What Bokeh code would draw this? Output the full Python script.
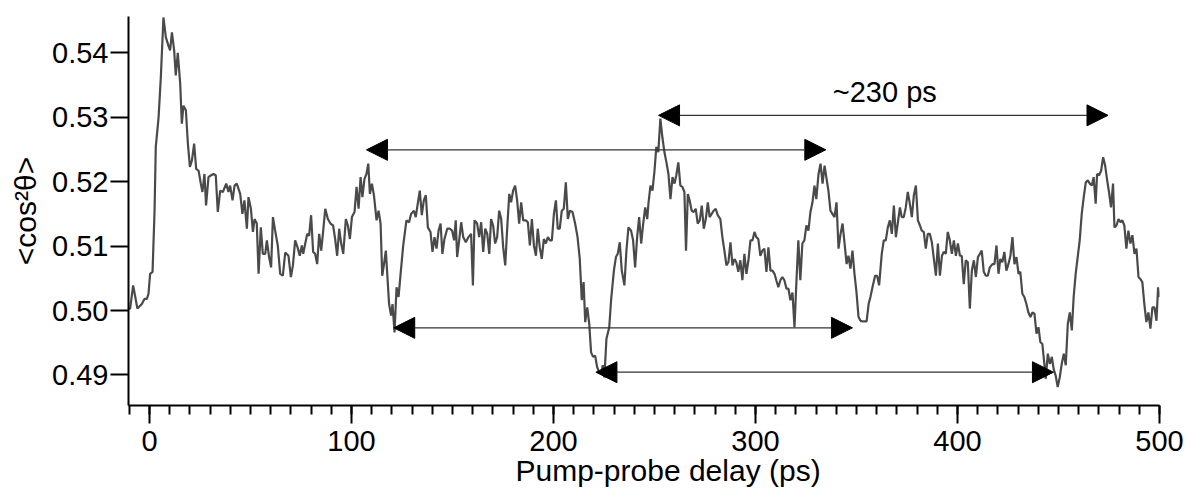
from bokeh.plotting import figure
from bokeh.models import Range1d, Arrow, NormalHead, Label, FixedTicker, PrintfTickFormatter, Title
from bokeh.embed import file_html
from bokeh.resources import INLINE

# ---- data ----
delay = [
    -10.4, -9.6, -8.1, -6.0, -3.8, -2.5, -1.3, -0.5, 0.3, 1.5, 2.5, 3.1, 4.5, 5.6, 6.9, 8.1, 9.4, 10.2, 11.1, 12.2,
    13.0, 14.0, 15.2, 16.0, 16.8, 18.0, 19.0, 20.0, 21.0, 22.1, 23.1, 24.3, 25.4, 26.2, 27.2, 28.0, 29.2, 30.5, 31.7, 32.8,
    33.8, 35.0, 36.3, 38.0, 39.1, 39.9, 41.1, 42.1, 43.2, 44.9, 46.0, 47.0, 48.2, 49.0, 50.2, 51.2, 52.0, 53.1, 54.0, 55.1,
    56.1, 57.3, 58.1, 59.2, 60.2, 61.1, 62.2, 63.5, 64.7, 66.0, 67.2, 68.8, 70.0, 71.0, 72.1, 73.3, 74.4, 75.4,
    76.1, 77.1, 78.1, 79.0, 80.0, 81.0, 82.0, 83.0, 84.0, 85.0, 86.0, 87.0, 88.3, 89.6, 90.9, 91.9, 92.9, 93.9, 94.9, 95.9,
    97.2, 98.2, 99.2, 100.2, 101.5, 102.5, 103.5, 104.5, 105.4, 106.4, 107.4, 108.3, 109.1, 110.1, 111.1, 112.4, 113.4, 114.4,
    115.2, 116.0, 117.0, 118.0, 118.6, 119.6, 120.3, 121.3, 122.3, 123.3, 124.3, 125.6, 127.2, 128.5, 129.5, 130.9, 131.8,
    132.8, 133.8, 134.8, 135.8, 136.8, 137.8, 139.1, 140.1, 141.1, 142.1, 143.1, 144.1, 145.0, 146.0, 147.4, 148.7, 149.8,
    150.8, 151.6, 152.3, 153.3, 154.3, 155.3, 156.6, 157.9, 159.2, 160.1, 160.9,
    162.2, 163.2, 164.2, 165.2, 166.2, 167.2, 168.2, 169.1, 170.1, 171.1, 172.1, 173.1, 174.1, 175.1, 176.1, 177.1, 178.1,
    179.0, 180.0, 181.0, 182.0, 183.0, 184.0, 185.0, 186.3, 187.3, 188.3, 189.3, 190.3, 191.3, 192.2, 193.2, 194.2, 195.2,
    196.2, 197.2, 198.2, 199.2, 200.2, 201.2, 202.1, 203.1, 204.1, 205.1, 206.1, 207.1, 208.1, 209.4, 210.7, 211.9, 213.0,
    214.0, 214.9, 215.7, 216.7, 217.7, 218.6, 219.6, 220.6, 221.6, 222.6, 223.6, 224.4, 225.2, 226.2, 227.6, 228.5, 229.9,
    230.9, 231.8, 232.8, 233.8, 235.1, 236.1, 237.1, 238.4, 239.4, 240.4, 241.4, 242.4, 243.4, 244.4, 245.4, 246.4,
    247.0, 248.0, 249.0, 250.0, 250.9, 251.9, 252.9, 253.9, 254.9, 255.9, 256.9, 257.9, 258.9, 259.9, 260.8, 261.8, 262.8,
    263.8, 264.8, 265.6, 266.5, 267.4, 268.4, 269.4, 270.4, 271.4, 272.4, 273.4, 274.4, 275.4, 276.4, 277.3, 278.3, 279.3,
    280.3, 281.3, 282.6, 283.6, 284.6, 285.6, 286.6, 287.6, 288.6, 289.6, 290.5, 291.5, 292.5, 293.5, 294.5, 295.5, 296.5,
    297.5, 298.5, 299.5, 300.4, 301.4, 302.4, 303.4, 304.4, 305.4, 306.4, 307.4, 308.4, 309.4, 310.3, 311.3, 312.3, 313.3,
    314.3, 315.3, 316.3, 317.3, 318.3, 319.3, 320.2, 321.2, 322.2, 323.2, 324.2, 325.2, 326.2, 327.2, 328.2, 329.2, 330.1,
    331.2, 332.2, 333.2, 334.2, 335.2, 336.1, 337.1, 338.1, 339.1, 340.1, 341.1, 342.1, 343.1, 344.1, 345.1, 346.0, 347.0,
    348.0, 349.0, 350.0, 351.0, 352.0, 353.3, 355.0, 356.0, 356.9, 357.9, 359.2, 360.2, 361.2, 362.5, 363.5, 364.5, 365.5,
    366.5, 367.5, 368.5, 369.5, 370.5, 371.5, 372.4, 373.4, 374.4, 375.4, 376.4, 377.4, 378.4, 379.4, 380.4, 381.4, 382.3,
    383.3, 384.3, 385.3, 386.3, 387.3, 388.3, 389.3, 390.3, 391.3, 392.3, 393.2, 394.2, 395.2, 396.2, 397.2, 398.2, 399.2,
    400.2, 401.2, 402.1, 403.1, 404.1, 405.1, 406.1, 407.1, 408.1, 409.1, 410.1, 411.1, 412.0, 413.0, 414.0, 415.0, 416.0,
    417.3, 418.3, 419.3, 420.3, 421.2, 422.2, 423.2, 424.2, 425.2, 426.2, 427.2, 428.2, 429.2, 430.2, 431.1, 432.1, 433.1,
    434.1, 435.1, 436.1, 437.1, 438.1, 439.1, 440.1, 441.0, 442.0, 443.0, 443.7, 444.7, 445.7, 446.7, 447.6, 448.6, 449.6,
    450.6, 451.6, 452.6, 453.6, 454.6, 455.6, 456.6, 457.5, 458.5, 459.5, 460.5, 461.5, 462.5, 463.5, 464.5, 465.5, 466.5,
    467.4, 468.4, 469.1, 470.1, 471.1, 472.1, 473.1, 474.0, 475.0, 476.0, 477.0, 477.7, 478.7, 479.7, 480.7, 481.6, 482.6,
    483.6, 484.6, 485.6, 486.6, 487.6, 488.6, 489.6, 490.5, 491.5, 492.5, 493.5, 494.5, 495.5, 496.5, 497.5, 498.5, 499.3,
    500.0,
]

cos2 = [
    .5003, .5003, .5039, .5003, .5010, .5018, .5018, .5026, .5057, .5060, .5155, .5254, .5300, .5362, .5455, .5424, .5411, .5404, .5432, .5404,
    .5365, .5400, .5352, .5290, .5318, .5311, .5259, .5223, .5233, .5259, .5220, .5217, .5197, .5184, .5212, .5163, .5207, .5210, .5212, .5210,
    .5153, .5186, .5184, .5197, .5184, .5194, .5171, .5194, .5197, .5181, .5150, .5171, .5127, .5176, .5158, .5122, .5142, .5135, .5057, .5129,
    .5088, .5088, .5109, .5083, .5067, .5145, .5124, .5101, .5057, .5054, .5090, .5085, .5052, .5070, .5109, .5098, .5085, .5101,
    .5088, .5104, .5119, .5116, .5148, .5091, .5088, .5072, .5119, .5093, .5124, .5158, .5142, .5135, .5132, .5111, .5085, .5127, .5104, .5088,
    .5142, .5132, .5111, .5145, .5153, .5192, .5158, .5207, .5176, .5204, .5212, .5228, .5181, .5197, .5179, .5140, .5155, .5135,
    .5054, .5070, .5093, .5041, .5010, .4992, .5010, .4966, .5036, .5021, .5057, .5101, .5140, .5137, .5150, .5155, .5145,
    .5166, .5186, .5148, .5171, .5179, .5129, .5122, .5091, .5114, .5096, .5124, .5135, .5088, .5111, .5127, .5127, .5124,
    .5109, .5140, .5083, .5109, .5137, .5114, .5106, .5114, .5119, .5039, .5140,
    .5135, .5114, .5137, .5091, .5127, .5119, .5088, .5142, .5132, .5104, .5114, .5155, .5142, .5098, .5070, .5129, .5181,
    .5168, .5186, .5194, .5171, .5135, .5168, .5140, .5140, .5137, .5101, .5142, .5101, .5085, .5127, .5098, .5080, .5111,
    .5104, .5114, .5109, .5109, .5150, .5171, .5127, .5127, .5155, .5158, .5199, .5142, .5155, .5153, .5135, .5114, .5080,
    .5016, .5044, .4982, .5005, .4979, .4935, .4928, .4930, .4912, .4904, .4902, .4915, .4896, .4956, .4974, .5016, .5062,
    .5083, .5088, .5106, .5062, .5039, .5093, .5129, .5124, .5109, .5067, .5114, .5145, .5104, .5135, .5160, .5142,
    .5166, .5194, .5186, .5217, .5254, .5246, .5298, .5269, .5246, .5230, .5212, .5173, .5207, .5197, .5210, .5230, .5194,
    .5192, .5184, .5093, .5181, .5171, .5155, .5153, .5158, .5135, .5140, .5163, .5127, .5142, .5168, .5145, .5150, .5155,
    .5158, .5148, .5142, .5114, .5093, .5070, .5075, .5106, .5070, .5080, .5075, .5060, .5078, .5047, .5088, .5057, .5078,
    .5109, .5109, .5122, .5114, .5111, .5085, .5093, .5096, .5060, .5098, .5062, .5062, .5057, .5047, .5036, .5047, .5052,
    .5047, .5034, .5034, .5016, .5028, .4974, .5041, .5109, .5047, .5104, .5109, .5132, .5124, .5153, .5168, .5194, .5173,
    .5212, .5228, .5197, .5225, .5204, .5186, .5155, .5150, .5145, .5168, .5096, .5119, .5135, .5104, .5072, .5085, .5065,
    .5093, .5057, .5028, .4990, .4984, .4983, .4983, .5010, .5021, .5036, .5054, .5054, .5039, .5088, .5109, .5109, .5129,
    .5140, .5119, .5163, .5114, .5137, .5160, .5145, .5145, .5160, .5184, .5166, .5145, .5179, .5194, .5140, .5132, .5124,
    .5122, .5096, .5119, .5119, .5106, .5080, .5054, .5104, .5054, .5085, .5091, .5088, .5122, .5109, .5088, .5109, .5085,
    .5104, .5085, .5085, .5041, .5078, .5075, .5003, .5062, .5078, .5052, .5083, .5088, .5093, .5060, .5054, .5054, .5067,
    .5072, .5072, .5101, .5057, .5080, .5075, .5091, .5062, .5072, .5085, .5114, .5072, .5083, .5057, .5060, .5026, .5021,
    .5010, .4997, .4990, .4997, .4995, .4964, .4974, .4951, .4948, .4917, .4894, .4933, .4917, .4928, .4909, .4899, .4881,
    .4896, .4917, .4933, .4915, .4979, .4997, .4969, .5021, .5057, .5083, .5109, .5150, .5176, .5199, .5202, .5197, .5194,
    .5207, .5166, .5212, .5210, .5217, .5238, .5225, .5204, .5184, .5160, .5197, .5129, .5132, .5142, .5137, .5140, .5132,
    .5096, .5124, .5104, .5117, .5088, .5096, .5052, .5049, .5044, .5010, .4982, .4997, .4972, .5005, .5005, .4984, .5036,
    .5021,
]

# period arrows: start / end delays (ps) and level
arrow_start = [252.0, 107.4, 120.9, 221.0]
arrow_end = [474.5, 334.8, 348.0, 447.5]
arrow_level = [0.5303, 0.52495, 0.49731, 0.49042]

period_text = "~230 ps"
period_x = 364.0
period_y = 0.5339

x_major = [0, 100, 200, 300, 400, 500]
x_minor = list(range(-10, 501, 10))
y_major = [0.49, 0.50, 0.51, 0.52, 0.53, 0.54]

x_title = "Pump-probe delay (ps)"
y_title = "<cos²θ>"

FONT = "Liberation Sans"
FS = "29px"
FS_TITLE = "30px"

p = figure(width=1186, height=495, output_backend="svg", toolbar_location=None,
           x_range=Range1d(-10.4, 500), y_range=Range1d(0.48525, 0.54565),
           min_border_left=128, min_border_right=27, min_border_top=16, min_border_bottom=90,
           background_fill_color="white", border_fill_color="white")
p.outline_line_color = None
p.grid.visible = False

xa = p.xaxis[0]
xa.ticker = FixedTicker(ticks=x_major, minor_ticks=x_minor)
ya = p.yaxis[0]
ya.ticker = FixedTicker(ticks=y_major, minor_ticks=[])
ya.formatter = PrintfTickFormatter(format="%.2f")

for ax in (xa, ya):
    ax.axis_line_width = 2
    ax.axis_line_color = "black"
    ax.major_tick_line_width = 2
    ax.major_tick_line_color = "black"
    ax.minor_tick_line_width = 2
    ax.minor_tick_line_color = "black"
    ax.major_tick_in = 0
    ax.major_tick_out = 18
    ax.minor_tick_in = 0
    ax.minor_tick_out = 9
    ax.major_label_text_font = FONT
    ax.major_label_text_font_size = FS
    ax.major_label_text_color = "black"

xa.major_label_standoff = 7
ya.major_label_standoff = 2
ya.axis_label = y_title
ya.axis_label_text_font = FONT
ya.axis_label_text_font_size = FS_TITLE
ya.axis_label_text_font_style = "normal"
ya.axis_label_text_color = "black"
ya.axis_label_standoff = 7

p.line(delay, cos2, line_color="#4a4a4a", line_width=2.2)

for xs, xe, yl in zip(arrow_start, arrow_end, arrow_level):
    p.add_layout(Arrow(
        start=NormalHead(size=21, fill_color="black", line_color="black", line_width=1),
        end=NormalHead(size=21, fill_color="black", line_color="black", line_width=1),
        x_start=xs, y_start=yl, x_end=xe, y_end=yl,
        line_color="#333333", line_width=1.3))

p.add_layout(Label(x=period_x, y=period_y, text=period_text, text_align="center",
                   text_baseline="alphabetic", text_font=FONT, text_font_size=FS,
                   text_color="black"))

p.add_layout(Title(text=x_title, align="left", offset=387, standoff=0, vertical_align="top",
                   text_font=FONT, text_font_size=FS_TITLE, text_font_style="normal",
                   text_color="black"), "below")

open("out.html", "w").write(file_html(p, INLINE))
